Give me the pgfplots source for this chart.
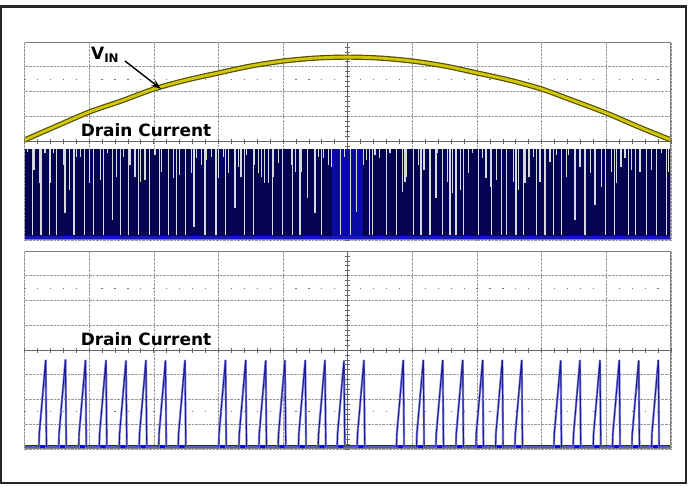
\documentclass[border=0pt]{standalone}
\usepackage{pgfplots}
\pgfplotsset{compat=1.18}
\usepackage{pgfplotstable}
\usepackage{fontspec}
\setmainfont{DejaVu Sans}
\usetikzlibrary{arrows.meta}

\definecolor{navyfill}{RGB}{3,3,82}
\definecolor{midblue}{RGB}{10,10,165}
\definecolor{edgeblue}{RGB}{20,20,205}
\definecolor{gapcol}{RGB}{215,215,226}
\definecolor{vincore}{RGB}{210,200,10}
\definecolor{vinedge}{RGB}{85,80,0}
\definecolor{pulsedark}{RGB}{25,25,150}
\definecolor{pulsehalo}{RGB}{125,125,215}
\definecolor{baseblue}{RGB}{10,10,230}

% V_IN, divisions from centre
\pgfplotstableread{
x     y
-5.0  0.04
-4.5  0.61
-4.0  1.17
-3.5  1.62
-3.0  2.10
-2.5  2.46
-2.0  2.75
-1.5  3.03
-1.0  3.23
-0.5  3.35
 0.0  3.39
 0.5  3.35
 1.0  3.23
 1.5  3.03
 2.0  2.75
 2.5  2.46
 3.0  2.10
 3.5  1.62
 4.0  1.13
 4.5  0.57
 5.0  0.04
}\vin

% gaps in the compressed drain current (x, depth)
\pgfplotstableread{
x       d
-4.956 -0.43
-4.874 -3.8
-4.853 -1.17
-4.771 -1.71
-4.745 -3.8
-4.683 -0.50
-4.616 -3.8
-4.595 -1.71
-4.554 -0.50
-4.503 -3.8
-4.399 -0.97
-4.374 -2.92
-4.307 -1.98
-4.234 -3.8
-4.193 -0.63
-4.131 -0.63
-4.075 -3.8
-3.997 -1.71
-3.935 -3.8
-3.822 -1.58
-3.781 -3.8
-3.719 -0.50
-3.636 -3.19
-3.574 -1.44
-3.513 -3.8
-3.471 -0.63
-3.394 -3.8
-3.368 -0.97
-3.291 -1.44
-3.239 -3.8
-3.203 -1.64
-3.136 -1.58
-3.069 -3.8
-2.981 -0.57
-2.915 -3.8
-2.878 -1.24
-2.775 -3.8
-2.698 -1.51
-2.646 -3.8
-2.605 -1.37
-2.507 -3.8
-2.414 -1.31
-2.378 -3.46
-2.337 -0.70
-2.260 -0.97
-2.208 -3.8
-2.182 -0.77
-2.104 -0.63
-2.038 -3.8
-2.002 -1.51
-1.924 -0.63
-1.889 -3.8
-1.847 -1.31
-1.744 -2.72
-1.692 -1.04
-1.651 -1.44
-1.599 -3.8
-1.563 -0.57
-1.460 -3.8
-1.445 -0.97
-1.383 -1.31
-1.341 -1.44
-1.290 -1.71
-1.228 -1.71
-1.166 -3.8
-1.151 -1.44
-1.073 -0.90
-1.012 -3.8
-0.877 -0.97
-0.857 -3.8
-0.805 -1.24
-0.738 -3.8
-0.712 -1.24
-0.620 -2.32
-0.506 -2.92
-0.455 -0.63
-0.403 -3.8
-0.377 -0.70
-0.300 -0.97
-0.248 -1.04
-0.119 -3.8
-0.052 -0.63
 0.036 -3.8
 0.138 -2.85
 0.241 -0.97
 0.293 -0.77
 0.334 -3.8
 0.385 -3.8
 0.421 -0.57
 0.489 -0.70
 0.602 -3.8
 0.654 -0.50
 0.747 -3.8
 0.850 -2.05
 0.886 -1.64
 0.912 -1.44
 1.014 -3.8
 1.092 -0.97
 1.133 -3.8
 1.180 -1.17
 1.272 -3.8
 1.365 -2.32
 1.386 -0.50
 1.469 -3.8
 1.541 -1.64
 1.582 -3.8
 1.623 -2.11
 1.675 -3.8
 1.737 -1.98
 1.789 -3.8
 1.866 -1.31
 1.933 -0.50
 2.020 -3.8
 2.088 -0.70
 2.139 -1.51
 2.201 -1.84
 2.226 -3.8
 2.304 -1.58
 2.381 -3.8
 2.458 -3.8
 2.561 -1.64
 2.602 -3.8
 2.638 -1.98
 2.715 -3.8
 2.741 -1.71
 2.803 -1.44
 2.870 -0.63
 2.922 -3.8
 2.974 -1.64
 3.051 -3.8
 3.128 -0.84
 3.180 -3.8
 3.232 -0.57
 3.309 -3.8
 3.386 -1.44
 3.412 -0.57
 3.515 -3.19
 3.593 -1.04
 3.670 -3.8
 3.748 -1.31
 3.825 -2.59
 3.928 -1.84
 3.980 -3.8
 4.083 -1.24
 4.124 -3.8
 4.160 -1.71
 4.227 -1.04
 4.289 -0.70
 4.340 -3.8
 4.382 -1.17
 4.444 -3.8
 4.521 -1.24
 4.624 -3.8
 4.702 -1.17
 4.779 -3.8
 4.856 -0.50
 4.933 -3.8
 4.959 -1.24
}\gaps

% expanded drain current trace
\pgfplotstableread{
x      y
-5.000 -3.92
-4.777 -3.92
-4.772 -3.40
-4.672 -0.40
-4.660 -3.92
-4.471 -3.92
-4.466 -3.40
-4.366 -0.38
-4.354 -3.92
-4.161 -3.92
-4.156 -3.40
-4.056 -0.40
-4.044 -3.92
-3.844 -3.92
-3.839 -3.40
-3.739 -0.40
-3.727 -3.92
-3.535 -3.92
-3.530 -3.40
-3.430 -0.42
-3.418 -3.92
-3.226 -3.92
-3.221 -3.40
-3.121 -0.40
-3.109 -3.92
-2.924 -3.92
-2.919 -3.40
-2.819 -0.42
-2.807 -3.92
-2.622 -3.92
-2.617 -3.40
-2.517 -0.40
-2.505 -3.92
-1.996 -3.92
-1.991 -3.40
-1.891 -0.40
-1.879 -3.92
-1.683 -3.92
-1.678 -3.40
-1.578 -0.40
-1.566 -3.92
-1.374 -3.92
-1.369 -3.40
-1.269 -0.42
-1.257 -3.92
-1.076 -3.92
-1.071 -3.40
-0.971 -0.40
-0.959 -3.92
-0.762 -3.92
-0.757 -3.40
-0.657 -0.40
-0.645 -3.92
-0.457 -3.92
-0.452 -3.40
-0.352 -0.40
-0.340 -3.92
-0.163 -3.92
-0.158 -3.40
-0.058 -0.42
-0.046 -3.92
 0.146 -3.92
 0.151 -3.40
 0.251 -0.40
 0.263 -3.92
 0.754 -3.92
 0.759 -3.40
 0.859 -0.40
 0.871 -3.92
 1.064 -3.92
 1.069 -3.40
 1.169 -0.40
 1.181 -3.92
 1.364 -3.92
 1.369 -3.40
 1.469 -0.40
 1.481 -3.92
 1.673 -3.92
 1.678 -3.40
 1.778 -0.40
 1.790 -3.92
 1.982 -3.92
 1.987 -3.40
 2.087 -0.40
 2.099 -3.92
 2.286 -3.92
 2.291 -3.40
 2.391 -0.40
 2.403 -3.92
 2.586 -3.92
 2.591 -3.40
 2.691 -0.40
 2.703 -3.92
 3.189 -3.92
 3.194 -3.40
 3.294 -0.42
 3.306 -3.92
 3.487 -3.92
 3.492 -3.40
 3.592 -0.40
 3.604 -3.92
 3.797 -3.92
 3.802 -3.40
 3.902 -0.40
 3.914 -3.92
 4.095 -3.92
 4.100 -3.40
 4.200 -0.40
 4.212 -3.92
 4.395 -3.92
 4.400 -3.40
 4.500 -0.42
 4.512 -3.92
 4.699 -3.92
 4.704 -3.40
 4.804 -0.40
 4.816 -3.92
 5.000 -3.92
}\pulses

\pgfplotsset{
  scopeaxis/.style={
    scale only axis, width=646.5bp, height=198bp,
    xmin=-5, xmax=5, ymin=-4, ymax=4,
    axis lines=center,
    axis line style={draw=black!60, line width=1bp, -},
    xtick={-5,...,5}, ytick={-4,...,4}, minor tick num=4,
    tick label style={text opacity=0, fill=none, draw=none},
    major tick length=5bp, minor tick length=5bp, tick align=center,
    tick style={draw=black!60, line width=0.8bp},
    grid=major,
    major grid style={densely dotted, draw=black!40, line width=0.6bp},
    extra y ticks={-2.5,2.5},
    extra y tick style={grid=major, major tick length=0pt,
      major grid style={dash pattern=on 1.2bp off 11.73bp, dash phase=0.6bp,
        draw=black!55, line width=1.2bp}},
  }
}

\begin{document}
\begin{tikzpicture}
\useasboundingbox (0,0) rectangle (692bp,487bp);
\draw[line width=2.3bp, draw=black!85] (1.2bp,4bp) rectangle (686bp,480.5bp);

% top panel: V_IN and drain current at slow time base
\begin{axis}[scopeaxis, at={(24.5bp,247bp)}, anchor=south west]
  \addplot[draw=none, fill=navyfill, forget plot]
    coordinates {(-5,-0.32) (5,-0.32) (5,-3.88) (-5,-3.88)} -- cycle;
  \addplot[draw=none, fill=midblue, forget plot]
    coordinates {(-0.25,-0.32) (0.24,-0.32) (0.24,-3.88) (-0.25,-3.88)} -- cycle;
  \addplot[draw=none, mark=none, forget plot,
    error bars/.cd, y dir=minus, y explicit, error mark=none,
    error bar style={draw=gapcol, line width=1.1bp}]
    table[x=x, y expr=-0.32, y error minus expr={-0.32-\thisrow{d}}] {\gaps};
  \addplot[edgeblue, line width=2.5bp, forget plot] coordinates {(-5,-3.9) (5,-3.9)};
  \addplot[vinedge, line width=5.2bp, smooth, forget plot] table[x=x, y=y] {\vin};
  \addplot[vincore, line width=2.8bp, smooth, forget plot] table[x=x, y=y] {\vin};
  \draw[draw=black!50, line width=1.2bp] (rel axis cs:0,0) rectangle (rel axis cs:1,1);
\end{axis}

% bottom panel: drain current at fast time base
\begin{axis}[scopeaxis, at={(24.5bp,38bp)}, anchor=south west]
  \addplot[baseblue, line width=3bp, forget plot] coordinates {(-5,-3.9) (5,-3.9)};
  \addplot[pulsehalo, line width=2.2bp, forget plot] table[x=x, y=y] {\pulses};
  \addplot[pulsedark, line width=0.9bp, forget plot] table[x=x, y=y] {\pulses};
  \draw[draw=black!50, line width=1.2bp] (rel axis cs:0,0) rectangle (rel axis cs:1,1);
\end{axis}

\node[anchor=base west, inner sep=0, font=\fontsize{17}{20}\selectfont\bfseries]
  at (91bp,427bp) {V\textsubscript{IN}};
\draw[-{Stealth[length=10bp,width=7bp]}, line width=1.4bp] (125bp,426bp) -- (161bp,398bp);
\node[inner sep=0, font=\fontsize{17}{20}\selectfont\bfseries] at (146bp,356.7bp) {Drain Current};
\node[inner sep=0, font=\fontsize{17}{20}\selectfont\bfseries] at (146bp,147.7bp) {Drain Current};
\end{tikzpicture}
\end{document}
